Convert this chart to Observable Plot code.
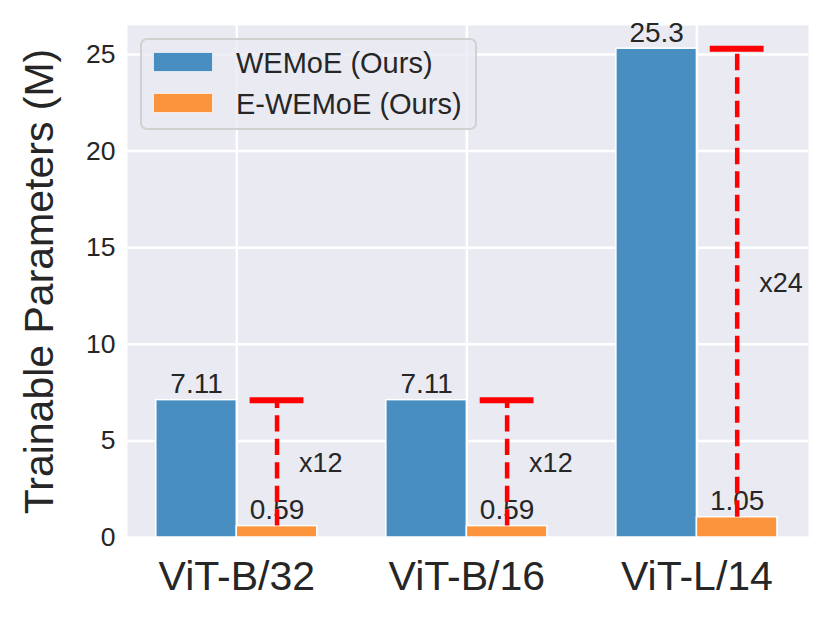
<!DOCTYPE html>
<html>
<head>
<meta charset="utf-8">
<script src="https://cdn.jsdelivr.net/npm/d3@7"></script>
<script src="https://cdn.jsdelivr.net/npm/@observablehq/plot@0.6"></script>
<style>
  html, body { margin: 0; padding: 0; background: white; }
  #wrap { position: relative; width: 830px; height: 617px; font-family: "Liberation Sans", Arial, sans-serif; color: #262626; }
  #wrap svg { position: absolute; left: 0; top: 0; }
  .legend { position: absolute; left: 140px; top: 38px; width: 333px; height: 88px;
    border: 2px solid rgba(204,204,204,0.85); border-radius: 7px; background: rgba(234,234,242,0.8); }
  .sw { position: absolute; left: 11px; width: 58px; height: 18px; border: 1.5px solid rgba(255,255,255,0.8); }
  .lt { position: absolute; left: 94px; font-size: 29px; line-height: 29px; white-space: nowrap; }
</style>
</head>
<body>
<div id="wrap"></div>
<script>
// ---- data ----
const categories = ["ViT-B/32", "ViT-B/16", "ViT-L/14"];
const wemoe = [7.11, 7.11, 25.3];
const ewemoe = [0.59, 0.59, 1.05];
const ratioLabels = ["x12", "x12", "x24"];
const seriesNames = ["WEMoE (Ours)", "E-WEMoE (Ours)"];
const yTicks = [0, 5, 10, 15, 20, 25];

// ---- styles ----
const blue = "rgb(72,142,192)";
const orange = "rgb(251,148,60)";
const barW = 0.35;

const rows = categories.map((c, i) => ({i, cat: c, wemoe: wemoe[i], ewemoe: ewemoe[i], ratio: ratioLabels[i]}));

const chart = Plot.plot({
  width: 830,
  height: 617,
  marginLeft: 127,
  marginRight: 22,
  marginTop: 25,
  marginBottom: 80,
  style: {fontFamily: "'Liberation Sans', Arial, sans-serif", color: "#262626", background: "transparent"},
  x: {type: "linear", domain: [-0.475, 2.485]},
  y: {type: "linear", domain: [0, 26.5]},
  marks: [
    Plot.frame({fill: "#EAEAF2"}),
    Plot.gridY(yTicks, {stroke: "white", strokeOpacity: 1, strokeWidth: 2.5}),
    Plot.gridX([0, 1, 2], {stroke: "white", strokeOpacity: 1, strokeWidth: 2.5}),
    Plot.rect(rows, {x1: d => d.i - barW, x2: d => d.i, y1: 0, y2: "wemoe", fill: blue, stroke: "white", strokeWidth: 1.5}),
    Plot.rect(rows, {x1: d => d.i, x2: d => d.i + barW, y1: 0, y2: "ewemoe", fill: orange, stroke: "white", strokeWidth: 1.5}),
    Plot.text(rows, {x: d => d.i - barW / 2, y: "wemoe", text: d => String(d.wemoe), lineAnchor: "bottom", dy: -7, fontSize: 28, fill: "#262626"}),
    Plot.text(rows, {x: d => d.i + barW / 2, y: "ewemoe", text: d => String(d.ewemoe), lineAnchor: "bottom", dy: -7, fontSize: 28, fill: "#262626"}),
    Plot.ruleX(rows, {x: d => d.i + barW / 2, y1: "ewemoe", y2: "wemoe", stroke: "red", strokeWidth: 4.5, strokeDasharray: "16.4,7.1"}),
    Plot.ruleY(rows, {y: "wemoe", x1: d => d.i + barW / 2 - 0.117, x2: d => d.i + barW / 2 + 0.117, stroke: "red", strokeWidth: 6}),
    Plot.text(rows, {x: d => d.i + barW / 2, y: d => (d.wemoe + d.ewemoe) / 2, text: "ratio", textAnchor: "start", dx: 22, fontSize: 27, fill: "#262626"}),
    Plot.axisY(yTicks, {tickSize: 0, tickPadding: 12, fontSize: 26.5, label: null}),
    Plot.axisX([0, 1, 2], {tickSize: 0, tickPadding: 23, fontSize: 41, tickFormat: i => categories[i], label: null}),
    Plot.text(["Trainable Parameters (M)"], {frameAnchor: "left", textAnchor: "middle", lineAnchor: "middle", rotate: -90, dx: -88, fontSize: 41, fill: "#262626"})
  ]
});

const wrap = document.getElementById("wrap");
wrap.appendChild(chart);

// legend
const legend = document.createElement("div");
legend.className = "legend";
const colors = [blue, orange];
const tops = [12, 53];
seriesNames.forEach((name, k) => {
  const sw = document.createElement("div");
  sw.className = "sw";
  sw.style.top = tops[k] + "px";
  sw.style.background = colors[k];
  legend.appendChild(sw);
  const t = document.createElement("div");
  t.className = "lt";
  t.style.top = (tops[k] - 3) + "px";
  t.textContent = name;
  legend.appendChild(t);
});
wrap.appendChild(legend);
</script>
</body>
</html>
